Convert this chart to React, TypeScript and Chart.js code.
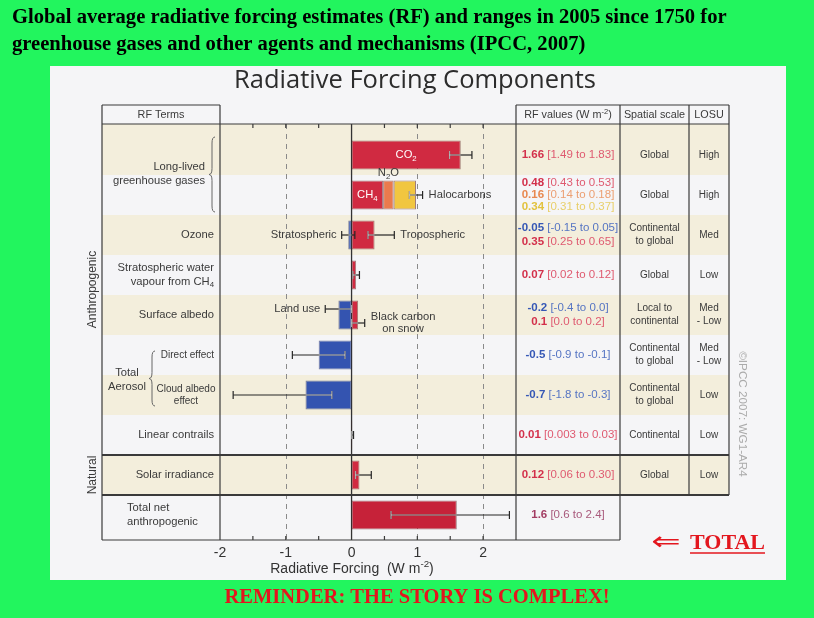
import React, { useEffect, useRef } from 'react';
import { Chart, registerables } from 'chart.js';

Chart.register(...registerables);

// ---------------- DATA ----------------
const rowKeys = [
  'CO2', 'Other long-lived greenhouse gases', 'Ozone', 'Stratospheric water vapour',
  'Surface albedo', 'Aerosol direct effect', 'Aerosol cloud albedo effect',
  'Linear contrails', 'Solar irradiance', 'Total net anthropogenic',
];
const rowTerms = [
  '', '', 'Ozone', 'Stratospheric water\nvapour from CH₄', 'Surface albedo',
  'Direct effect', 'Cloud albedo\neffect', 'Linear contrails', 'Solar irradiance',
  'Total net\nanthropogenic',
];
const groupTerms = ['Long-lived\ngreenhouse gases', 'Total\nAerosol'];
const groupRows = [[0, 1], [5, 6]];
const sectionLabels = ['Anthropogenic', 'Natural'];
const spatialScale = [
  'Global', 'Global', 'Continental\nto global', 'Global', 'Local to\ncontinental',
  'Continental\nto global', 'Continental\nto global', 'Continental', 'Global', '',
];
const losu = ['High', 'High', 'Med', 'Low', 'Med\n- Low', 'Med\n- Low', 'Low', 'Low', 'Low', ''];

const componentNames = [
  'CO₂', 'CH₄', 'N₂O', 'Halocarbons', 'Stratospheric', 'Tropospheric',
  'Stratospheric water vapour', 'Land use', 'Black carbon\non snow', 'Direct effect',
  'Cloud albedo effect', 'Linear contrails', 'Solar irradiance', 'Total net anthropogenic',
];
const componentRow = [0, 1, 1, 1, 2, 2, 3, 4, 4, 5, 6, 7, 8, 9];
const rfBest = [1.66, 0.48, 0.16, 0.34, -0.05, 0.35, 0.07, -0.2, 0.1, -0.5, -0.7, 0.01, 0.12, 1.6];
const rfLow = [1.49, 0.43, 0.14, 0.31, -0.15, 0.25, 0.02, -0.4, 0.0, -0.9, -1.8, 0.003, 0.06, 0.6];
const rfHigh = [1.83, 0.53, 0.18, 0.37, 0.05, 0.65, 0.12, 0.0, 0.2, -0.1, -0.3, 0.03, 0.30, 2.4];
const rfDecimals = [2, 2, 2, 2, 2, 2, 2, 1, 1, 1, 1, 2, 2, 1];

const xTickValues = [-2, -1, 0, 1, 2];
const xTickLabels = ['-2', '-1', '0', '1', '2'];
const xDashedGrid = [-1, 1, 2];
const xMinorTicks = [-1.5, -1, -0.5, 0.5, 1, 1.5, 2];

const slideTitle = [
  'Global average radiative forcing estimates (RF) and ranges in 2005 since 1750 for',
  'greenhouse gases and other agents and mechanisms (IPCC, 2007)',
];
const figureTitle = 'Radiative Forcing Components';
const axisTitle = 'Radiative Forcing  (W m⁻²)';
const headers = ['RF Terms', 'RF values (W m⁻²)', 'Spatial scale', 'LOSU'];
const copyright = '©IPCC 2007: WG1-AR4';
const reminder = 'REMINDER: THE STORY IS COMPLEX!';
const totalNote = 'TOTAL';

// ---------------- STYLE ----------------
const RED = '#d02a41';
const BLUE = '#3454b0';
const barColors = [RED, RED, '#ea7a4d', '#f1c640', BLUE, RED, RED, BLUE, RED, BLUE, BLUE, RED, RED, '#c62239'];
const valueColors = ['#d3304b', '#d3304b', '#e8884f', '#e2c23e', '#3557b5', '#d3304b', '#d3304b', '#3557b5', '#d3304b', '#3557b5', '#3557b5', '#d3304b', '#d3304b', '#a23c62'];
const rangeColors = ['#df5a70', '#df5a70', '#ec9f72', '#e8cf6a', '#5675c3', '#df5a70', '#df5a70', '#5675c3', '#df5a70', '#5675c3', '#5675c3', '#df5a70', '#df5a70', '#a95a7c'];
const barLabelPlacement = ['inside', 'inside', 'above', 'right', 'left', 'right', '', 'left', 'right', '', '', '', '', ''];
const errorShift: Record<number, number> = { 7: -6, 8: 8 };

const GREEN = '#22f55e';
const PANEL = '#f5f5f7';
const BEIGE = '#f3eedc';
const INK = '#3a3a3a';
const SANS = '"Liberation Sans", Arial, Helvetica, sans-serif';
const SERIF = '"Liberation Serif", "Times New Roman", serif';
const NOTE_RED = '#e3161e';

const TERMS_LEFT = 102;
const PLOT_LEFT = 220;
const PLOT_RIGHT = 516;
const HEADER_TOP = 105;
const FRAME_TOP = 124;
const FRAME_BOTTOM = 540;
const COLS = [516, 620, 689, 729];

// ---------------- DERIVED ----------------
const barStart = rfBest.map((v, i) => {
  let s = 0;
  for (let j = 0; j < i; j++) {
    if (componentRow[j] === componentRow[i] && Math.sign(rfBest[j]) === Math.sign(v)) s += rfBest[j];
  }
  return s;
});

type EB = { row: number; lo: number; hi: number; start: number; end: number; shift: number; members: number[] };
const errorBars: EB[] = (() => {
  const groups = new Map<string, number[]>();
  rfBest.forEach((v, i) => {
    const k = componentRow[i] + ':' + (v < 0 ? 'n' : 'p');
    if (!groups.has(k)) groups.set(k, []);
    groups.get(k)!.push(i);
  });
  const sum = (a: number[]) => a.reduce((p, c) => p + c, 0);
  return [...groups.values()].map((m) => ({
    row: componentRow[m[0]],
    lo: sum(m.map((i) => rfLow[i])),
    hi: sum(m.map((i) => rfHigh[i])),
    start: 0,
    end: sum(m.map((i) => rfBest[i])),
    shift: errorShift[m[0]] || 0,
    members: m,
  }));
})();

function fmt(v: number, d: number) {
  const s = String(v);
  const dec = s.includes('.') ? s.split('.')[1].length : 0;
  return v.toFixed(Math.max(d, dec));
}

// ---------------- TEXT HELPERS ----------------
const SUB: Record<string, string> = { '₂': '2', '₄': '4' };
const SUP: Record<string, string> = { '⁻': '-', '²': '2' };
function tokenize(text: string) {
  const out: { t: string; k: number }[] = [];
  for (const ch of text) {
    let k = 0;
    let c = ch;
    if (SUB[ch]) { k = 1; c = SUB[ch]; } else if (SUP[ch]) { k = 2; c = SUP[ch]; }
    const last = out[out.length - 1];
    if (last && last.k === k) last.t += c; else out.push({ t: c, k });
  }
  return out;
}
type Seg = { t: string; color: string; weight?: string };
function drawSegs(ctx: any, segs: Seg[], x: number, y: number, size: number, align: string, family = SANS, spacing = 0) {
  const pieces: { t: string; font: string; color: string; dy: number; w: number }[] = [];
  ctx.letterSpacing = spacing + 'px';
  for (const s of segs) {
    for (const r of tokenize(s.t)) {
      const fs = r.k ? size * 0.7 : size;
      const font = `${s.weight || 'normal'} ${fs}px ${family}`;
      ctx.font = font;
      pieces.push({ t: r.t, font, color: s.color, dy: r.k === 1 ? size * 0.3 : r.k === 2 ? -size * 0.33 : 0, w: ctx.measureText(r.t).width });
    }
  }
  const total = pieces.reduce((a, p) => a + p.w, 0);
  let cx = align === 'center' ? x - total / 2 : align === 'right' ? x - total : x;
  ctx.textAlign = 'left';
  ctx.textBaseline = 'middle';
  for (const p of pieces) {
    ctx.font = p.font;
    ctx.fillStyle = p.color;
    ctx.fillText(p.t, cx, y + p.dy);
    cx += p.w;
  }
  ctx.letterSpacing = '0px';
  return total;
}
type TOpt = { size: number; color: string; align?: string; weight?: string; family?: string; lh?: number; spacing?: number };
function drawText(ctx: any, text: string, x: number, y: number, o: TOpt) {
  const lines = text.split('\n');
  const lh = o.lh ?? o.size * 1.2;
  const y0 = y - ((lines.length - 1) * lh) / 2;
  lines.forEach((ln, i) => drawSegs(ctx, [{ t: ln, color: o.color, weight: o.weight }], x, y0 + i * lh, o.size, o.align || 'left', o.family, o.spacing));
}
function line(ctx: any, x1: number, y1: number, x2: number, y2: number) {
  ctx.beginPath();
  ctx.moveTo(x1, y1);
  ctx.lineTo(x2, y2);
  ctx.stroke();
}
function brace(ctx: any, x: number, y1: number, y2: number) {
  const d = 3;
  const r = 6;
  const ym = (y1 + y2) / 2;
  ctx.beginPath();
  ctx.moveTo(x, y1);
  ctx.quadraticCurveTo(x - d, y1, x - d, y1 + r);
  ctx.lineTo(x - d, ym - r);
  ctx.quadraticCurveTo(x - d, ym, x - 2 * d, ym);
  ctx.quadraticCurveTo(x - d, ym, x - d, ym + r);
  ctx.lineTo(x - d, y2 - r);
  ctx.quadraticCurveTo(x - d, y2, x, y2);
  ctx.stroke();
}

// ---------------- PLUGIN ----------------
const figurePlugin = {
  id: 'ipccFigure',
  beforeDraw(chart: any) {
    const { ctx } = chart;
    const xs = chart.scales.x;
    const ys = chart.scales.y;
    const n = rowKeys.length;
    const cy = (i: number) => ys.getPixelForValue(i);
    const bound = (i: number) => (i <= 0 ? FRAME_TOP : i >= n ? FRAME_BOTTOM : (cy(i - 1) + cy(i)) / 2);
    ctx.save();
    ctx.fillStyle = GREEN;
    ctx.fillRect(0, 0, chart.width, chart.height);
    ctx.fillStyle = PANEL;
    ctx.fillRect(50, 66, 736, 514);
    for (let i = 0; i < n - 1; i++) {
      if (i % 2 === 0) {
        ctx.fillStyle = BEIGE;
        ctx.fillRect(TERMS_LEFT, bound(i), COLS[3] - TERMS_LEFT, bound(i + 1) - bound(i));
      }
    }
    // grid
    ctx.strokeStyle = '#8a8a8a';
    ctx.lineWidth = 1;
    ctx.setLineDash([5, 5]);
    for (const v of xDashedGrid) {
      const px = Math.round(xs.getPixelForValue(v)) + 0.5;
      line(ctx, px, FRAME_TOP, px, FRAME_BOTTOM);
    }
    ctx.setLineDash([]);
    ctx.strokeStyle = '#333';
    ctx.lineWidth = 1.3;
    const zx = xs.getPixelForValue(0);
    line(ctx, zx, FRAME_TOP, zx, FRAME_BOTTOM);
    ctx.restore();
  },
  afterDatasetsDraw(chart: any) {
    const { ctx } = chart;
    const xs = chart.scales.x;
    const ys = chart.scales.y;
    const n = rowKeys.length;
    const px = (v: number) => xs.getPixelForValue(v);
    const cy = (i: number) => ys.getPixelForValue(i);
    const bound = (i: number) => (i <= 0 ? FRAME_TOP : i >= n ? FRAME_BOTTOM : (cy(i - 1) + cy(i)) / 2);
    ctx.save();

    // error bars
    const cap = 4;
    for (const eb of errorBars) {
      const y = cy(eb.row) + eb.shift;
      const x1 = px(eb.lo);
      const x2 = px(eb.hi);
      ctx.strokeStyle = '#262626';
      ctx.lineWidth = 1.2;
      line(ctx, x1, y, x2, y);
      line(ctx, x1, y - cap, x1, y + cap);
      line(ctx, x2, y - cap, x2, y + cap);
      const bMin = Math.min(eb.start, eb.end);
      const bMax = Math.max(eb.start, eb.end);
      const a = Math.max(bMin, eb.lo);
      const b = Math.min(bMax, eb.hi);
      if (b > a) {
        ctx.strokeStyle = 'rgba(255,255,255,0.6)';
        line(ctx, px(a), y, px(b), y);
        if (eb.lo >= bMin && eb.lo <= bMax) line(ctx, x1, y - cap, x1, y + cap);
        if (eb.hi >= bMin && eb.hi <= bMax) line(ctx, x2, y - cap, x2, y + cap);
      }
    }

    // labels on / beside bars
    const barHalf = 14.6;
    componentNames.forEach((name, i) => {
      const place = barLabelPlacement[i];
      if (!place) return;
      const eb = errorBars.find((e) => e.members.includes(i))!;
      const y = cy(componentRow[i]) + eb.shift;
      if (place === 'inside') {
        drawText(ctx, name, px(barStart[i] + rfBest[i] / 2), y, { size: 11.2, color: '#ffffff', align: 'center' });
      } else if (place === 'above') {
        drawText(ctx, name, px(barStart[i] + rfBest[i] / 2), cy(componentRow[i]) - barHalf - 7, { size: 11.2, color: INK, align: 'center' });
      } else if (place === 'right') {
        const x0 = px(eb.hi) + 6;
        const lines = name.split('\n');
        if (lines.length === 1) {
          drawText(ctx, name, x0, y, { size: 11.2, color: INK, align: 'left' });
        } else {
          ctx.font = `11.2px ${SANS}`;
          const w = Math.max(...lines.map((l) => ctx.measureText(l).width));
          drawText(ctx, name, x0 + w / 2, y, { size: 11.2, color: INK, align: 'center', lh: 12 });
        }
      } else if (place === 'left') {
        drawText(ctx, name, px(eb.lo) - 5, y, { size: 11.2, color: INK, align: 'right' });
      }
    });

    // frame
    ctx.strokeStyle = INK;
    ctx.lineWidth = 1.2;
    line(ctx, TERMS_LEFT, HEADER_TOP, PLOT_LEFT, HEADER_TOP);
    line(ctx, TERMS_LEFT, HEADER_TOP, TERMS_LEFT, FRAME_BOTTOM);
    line(ctx, PLOT_LEFT, HEADER_TOP, PLOT_LEFT, FRAME_BOTTOM);
    line(ctx, TERMS_LEFT, FRAME_TOP, PLOT_LEFT, FRAME_TOP);
    line(ctx, PLOT_LEFT, FRAME_TOP, PLOT_RIGHT, FRAME_TOP);
    line(ctx, TERMS_LEFT, FRAME_BOTTOM, COLS[1], FRAME_BOTTOM);
    line(ctx, COLS[0], HEADER_TOP, COLS[0], FRAME_BOTTOM);
    line(ctx, COLS[0], HEADER_TOP, COLS[3], HEADER_TOP);
    line(ctx, COLS[0], FRAME_TOP, COLS[3], FRAME_TOP);
    line(ctx, COLS[1], HEADER_TOP, COLS[1], FRAME_BOTTOM);
    line(ctx, COLS[2], HEADER_TOP, COLS[2], bound(n - 1));
    line(ctx, COLS[3], HEADER_TOP, COLS[3], bound(n - 1));
    ctx.lineWidth = 2;
    line(ctx, TERMS_LEFT, bound(n - 2), COLS[3], bound(n - 2));
    line(ctx, TERMS_LEFT, bound(n - 1), COLS[3], bound(n - 1));
    // minor ticks top & bottom
    ctx.lineWidth = 1.2;
    for (const v of xMinorTicks) {
      const x = px(v);
      line(ctx, x, FRAME_TOP, x, FRAME_TOP + 4);
      line(ctx, x, FRAME_BOTTOM, x, FRAME_BOTTOM - 4);
    }

    // tick labels & axis title
    xTickValues.forEach((v, i) => {
      drawText(ctx, xTickLabels[i], px(v), 553, { size: 14, color: '#333', align: 'center' });
    });
    drawText(ctx, axisTitle, 352, 569, { size: 14, color: '#333', align: 'center' });

    // headers
    drawText(ctx, headers[0], (TERMS_LEFT + PLOT_LEFT) / 2, 115, { size: 10.8, color: INK, align: 'center' });
    drawText(ctx, headers[1], (COLS[0] + COLS[1]) / 2, 115, { size: 10.8, color: INK, align: 'center' });
    drawText(ctx, headers[2], (COLS[1] + COLS[2]) / 2, 115, { size: 10.8, color: INK, align: 'center' });
    drawText(ctx, headers[3], (COLS[2] + COLS[3]) / 2, 115, { size: 10.8, color: INK, align: 'center' });

    // RF terms
    rowTerms.forEach((t, r) => {
      if (!t) return;
      let o: TOpt = { size: 11.2, color: INK, align: 'right', lh: 13.5 };
      let x = 214;
      if (r === 5) { o = { ...o, size: 10 }; }
      if (r === 6) { o = { ...o, size: 10, align: 'center', lh: 12.5 }; x = 186; }
      if (r === 9) { o = { ...o, align: 'left', lh: 14 }; x = 127; }
      drawText(ctx, t, x, cy(r), o);
    });
    // group terms with braces
    ctx.strokeStyle = '#666';
    ctx.lineWidth = 1;
    {
      const [a, b] = groupRows[0];
      const ym = (cy(a) + cy(b)) / 2;
      drawText(ctx, groupTerms[0], 205, ym - 1, { size: 11.2, color: INK, align: 'right', lh: 13.5 });
      brace(ctx, 215, cy(a) - 18, cy(b) + 17);
    }
    {
      const [a, b] = groupRows[1];
      const ym = (cy(a) + cy(b)) / 2;
      drawText(ctx, groupTerms[1], 127, ym + 5, { size: 11.2, color: INK, align: 'center', lh: 14 });
      brace(ctx, 155, cy(a) - 4, cy(b) + 11);
    }
    // section labels (rotated)
    ctx.save();
    ctx.translate(93, (FRAME_TOP + bound(n - 2)) / 2);
    ctx.rotate(-Math.PI / 2);
    drawText(ctx, sectionLabels[0], 0, 0, { size: 12, color: INK, align: 'center' });
    ctx.restore();
    ctx.save();
    ctx.translate(93, cy(n - 2));
    ctx.rotate(-Math.PI / 2);
    drawText(ctx, sectionLabels[1], 0, 0, { size: 12, color: INK, align: 'center' });
    ctx.restore();

    // RF values
    for (let r = 0; r < n; r++) {
      const members = componentRow.map((row, i) => (row === r ? i : -1)).filter((i) => i >= 0);
      const offs = members.length === 3 ? [-12, 0, 12] : members.length === 2 ? [-7, 7] : [0];
      members.forEach((i, k) => {
        drawSegs(ctx, [
          { t: fmt(rfBest[i], rfDecimals[i]), color: valueColors[i], weight: 'bold' },
          { t: ' [' + fmt(rfLow[i], rfDecimals[i]) + ' to ' + fmt(rfHigh[i], rfDecimals[i]) + ']', color: rangeColors[i] },
        ], (COLS[0] + COLS[1]) / 2, cy(r) + offs[k], 11.5, 'center');
      });
      if (spatialScale[r]) drawText(ctx, spatialScale[r], (COLS[1] + COLS[2]) / 2, cy(r), { size: 10, color: INK, align: 'center', lh: 13 });
      if (losu[r]) drawText(ctx, losu[r], (COLS[2] + COLS[3]) / 2, cy(r), { size: 10, color: INK, align: 'center', lh: 13 });
    }

    // copyright
    ctx.save();
    ctx.translate(742, 414);
    ctx.rotate(Math.PI / 2);
    drawText(ctx, copyright, 0, 0, { size: 11.7, color: '#ababab', align: 'center' });
    ctx.restore();

    // titles
    drawText(ctx, figureTitle, 415, 81, { size: 25.5, color: '#2c2c2c', align: 'center', family: '"Open Sans", "Noto Sans", sans-serif' });
    drawText(ctx, slideTitle[0], 12, 18, { size: 20.6, color: '#000', align: 'left', weight: 'bold', family: SERIF });
    drawText(ctx, slideTitle[1], 12, 45, { size: 20.6, color: '#000', align: 'left', weight: 'bold', family: SERIF });
    drawText(ctx, reminder, 417, 598, { size: 20.5, color: NOTE_RED, align: 'center', weight: 'bold', family: SERIF });
    // total note
    ctx.save();
    ctx.translate(666, 543);
    ctx.scale(1.35, 1);
    drawText(ctx, '⇐', 0, 0, { size: 26, color: NOTE_RED, align: 'center', family: '"DejaVu Sans", sans-serif' });
    ctx.restore();
    const w = drawSegs(ctx, [{ t: totalNote, color: NOTE_RED, weight: 'bold' }], 690, 543, 22, 'left', SERIF);
    ctx.strokeStyle = NOTE_RED;
    ctx.lineWidth = 1.5;
    line(ctx, 690, 553, 690 + w, 553);

    ctx.restore();
  },
};

export default function App() {
  const ref = useRef<HTMLCanvasElement | null>(null);
  useEffect(() => {
    if (!ref.current) return;
    const datasets = componentNames.map((name, i) => ({
      label: name.replace('\n', ' '),
      data: rowKeys.map((_, r) => (r === componentRow[i] ? [barStart[i], barStart[i] + rfBest[i]] : null)),
      backgroundColor: barColors[i],
      borderColor: rfBest[i] < 0 ? 'rgba(20,30,90,0.55)' : 'rgba(90,25,25,0.55)',
      borderWidth: 1,
      borderSkipped: false,
      grouped: false,
      barPercentage: 0.73,
      categoryPercentage: 1,
    }));
    const chart = new Chart(ref.current, {
      type: 'bar',
      data: { labels: rowKeys, datasets: datasets as any },
      options: {
        indexAxis: 'y',
        responsive: false,
        animation: false,
        devicePixelRatio: 1,
        layout: { padding: { left: PLOT_LEFT, right: 814 - PLOT_RIGHT, top: 135, bottom: 83 } },
        scales: {
          x: { type: 'linear', min: -2, max: 2.5, display: false },
          y: { type: 'category', display: false, offset: true },
        },
        plugins: { legend: { display: false }, tooltip: { enabled: false }, title: { display: false } },
      } as any,
      plugins: [figurePlugin],
    });
    return () => chart.destroy();
  }, []);
  return (
    <div style={{ position: 'absolute', left: 0, top: 0, width: 814, height: 618 }}>
      <canvas ref={ref} width={814} height={618} style={{ display: 'block' }} />
    </div>
  );
}
